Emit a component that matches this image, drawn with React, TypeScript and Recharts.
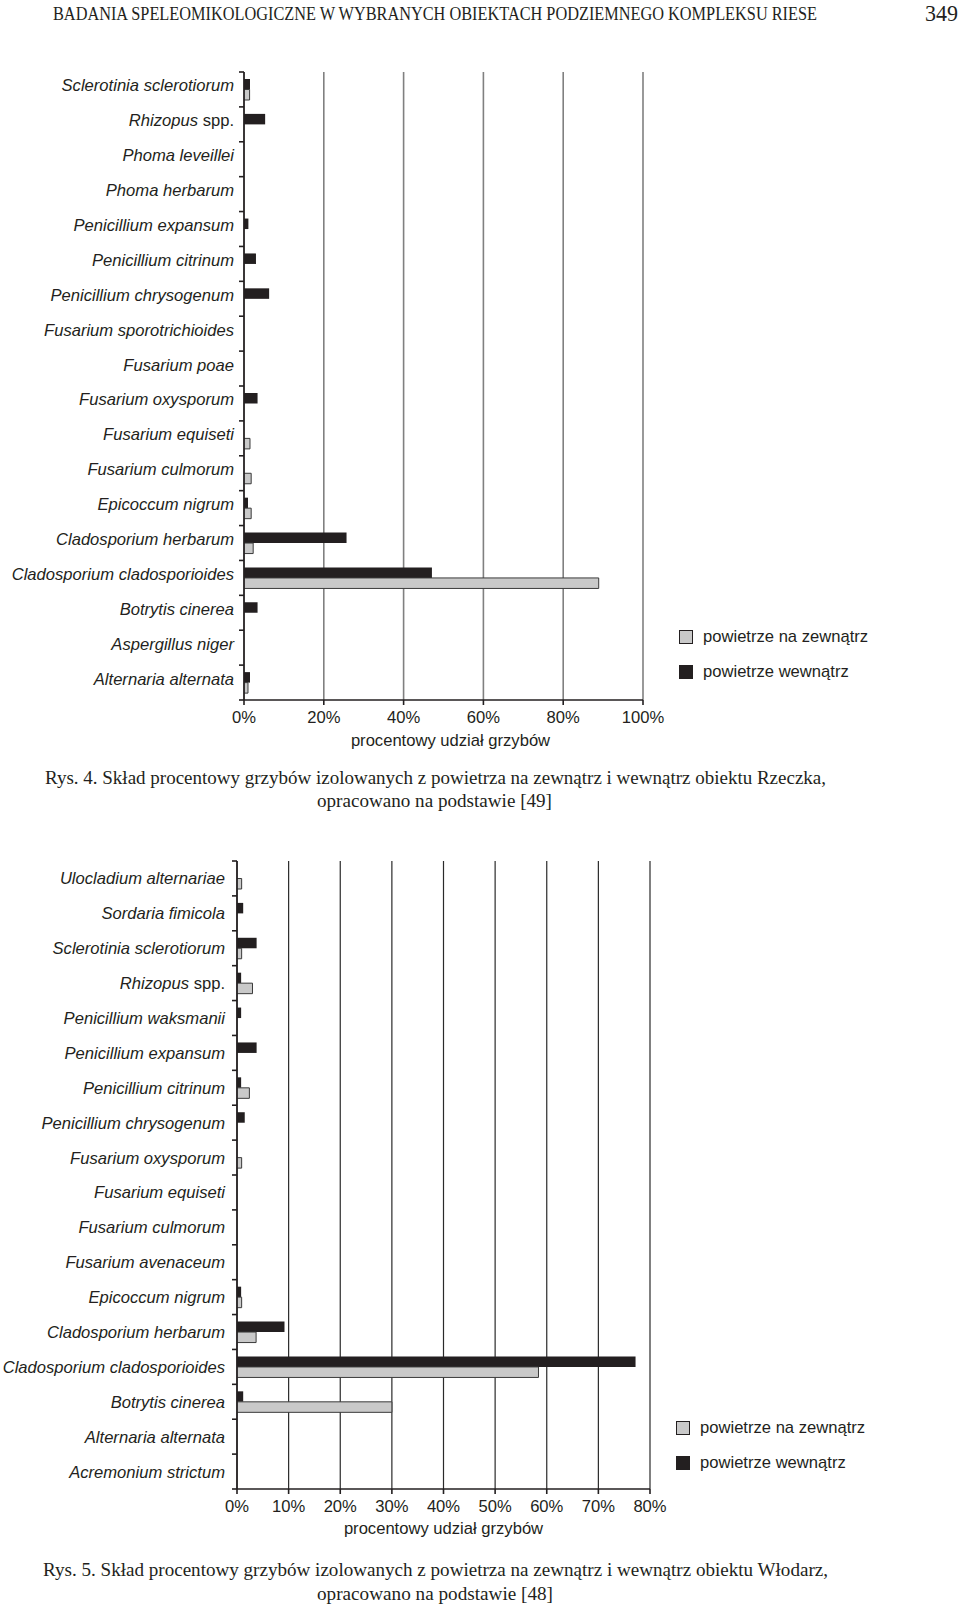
import React from "react";
import { BarChart, Bar, XAxis, YAxis, CartesianGrid, Legend } from "recharts";

// Rys. 4 - obiekt Rzeczka
const rzeczkaSpecies = [
  "Sclerotinia sclerotiorum",
  "Rhizopus spp.",
  "Phoma leveillei",
  "Phoma herbarum",
  "Penicillium expansum",
  "Penicillium citrinum",
  "Penicillium chrysogenum",
  "Fusarium sporotrichioides",
  "Fusarium poae",
  "Fusarium oxysporum",
  "Fusarium equiseti",
  "Fusarium culmorum",
  "Epicoccum nigrum",
  "Cladosporium herbarum",
  "Cladosporium cladosporioides",
  "Botrytis cinerea",
  "Aspergillus niger",
  "Alternaria alternata",
];
const rzeczkaInside = [1.5, 5.3, 0, 0, 1.1, 3.0, 6.3, 0, 0, 3.4, 0, 0, 1.0, 25.7, 47.1, 3.4, 0, 1.5];
const rzeczkaOutside = [1.4, 0, 0, 0, 0, 0, 0, 0, 0, 0, 1.5, 1.8, 1.8, 2.3, 88.9, 0, 0, 1.0];
const rzeczkaTicks = [0, 20, 40, 60, 80, 100];

// Rys. 5 - obiekt Włodarz
const wlodarzSpecies = [
  "Ulocladium alternariae",
  "Sordaria fimicola",
  "Sclerotinia sclerotiorum",
  "Rhizopus spp.",
  "Penicillium waksmanii",
  "Penicillium expansum",
  "Penicillium citrinum",
  "Penicillium chrysogenum",
  "Fusarium oxysporum",
  "Fusarium equiseti",
  "Fusarium culmorum",
  "Fusarium avenaceum",
  "Epicoccum nigrum",
  "Cladosporium herbarum",
  "Cladosporium cladosporioides",
  "Botrytis cinerea",
  "Alternaria alternata",
  "Acremonium strictum",
];
const wlodarzInside = [0, 1.2, 3.8, 0.8, 0.8, 3.8, 0.8, 1.5, 0, 0, 0, 0, 0.8, 9.2, 77.2, 1.2, 0, 0];
const wlodarzOutside = [0.9, 0, 0.9, 3.0, 0, 0, 2.4, 0, 0.9, 0, 0, 0, 0.9, 3.7, 58.4, 30, 0, 0];
const wlodarzTicks = [0, 10, 20, 30, 40, 50, 60, 70, 80];

const INSIDE = "powietrze wewnątrz";
const OUTSIDE = "powietrze na zewnątrz";
const SANS = "'Liberation Sans', Arial, sans-serif";
const SERIF = "'Liberation Serif', 'Times New Roman', serif";
const INK = "#231f20";
const GREY = "#c9c9c9";
const FS = 16.6;

const toRows = (species: string[], inside: number[], outside: number[]) =>
  species.map((name, i) => ({ name, inside: inside[i], outside: outside[i] }));

const SpeciesTick = (props: any) => {
  const { x, y, payload, index, count, gap, half, dy } = props;
  const axisX = x + gap;
  const h = payload.offset || half;
  const name: string = payload.value;
  const spp = name.endsWith(" spp.");
  return (
    <g>
      <line x1={axisX - 5} x2={axisX} y1={y - h} y2={y - h} stroke={INK} strokeWidth={1.6} />
      {index === count - 1 && (
        <line x1={axisX - 5} x2={axisX} y1={y + h} y2={y + h} stroke={INK} strokeWidth={1.6} />
      )}
      <text x={x} y={y} dy={dy} textAnchor="end" fontSize={FS} fill={INK} fontFamily={SANS}>
        <tspan fontStyle="italic">{spp ? name.slice(0, -5) : name}</tspan>
        {spp && <tspan> spp.</tspan>}
      </text>
    </g>
  );
};

const legendContent = ({ payload }: any) => {
  const items = [...(payload || [])].sort(
    (a: any, b: any) => (a.value === OUTSIDE ? 0 : 1) - (b.value === OUTSIDE ? 0 : 1)
  );
  return (
    <div style={{ fontFamily: SANS, fontSize: FS, color: INK }}>
      {items.map((entry: any) => (
        <div key={entry.value} style={{ display: "flex", alignItems: "center", height: 35 }}>
          <span
            style={{
              display: "inline-block",
              width: 12,
              height: 12,
              background: entry.color,
              border: `1px solid ${INK}`,
              marginRight: 10,
            }}
          />
          {entry.value}
        </div>
      ))}
    </div>
  );
};

interface FungiChartProps {
  rows: { name: string; inside: number; outside: number }[];
  ticks: number[];
  top: number;
  right: number;
  yWidth: number;
  gap: number;
  labelDy: number;
  gridColor: string;
  gridWidth: number;
  titleOffset: number;
  titleDx: number;
  legendLeft: number;
  legendTop: number;
}

const PLOT_H = 628;

const FungiChart = (p: FungiChartProps) => (
  <div style={{ position: "absolute", left: 0, top: p.top }}>
    <BarChart
      width={700}
      height={700}
      data={p.rows}
      layout="vertical"
      margin={{ top: 12, right: p.right, bottom: 0, left: 0 }}
      barSize={10.5}
      barGap={0}
    >
      <CartesianGrid horizontal={false} stroke={p.gridColor} strokeWidth={p.gridWidth} />
      <XAxis
        type="number"
        domain={[0, p.ticks[p.ticks.length - 1]]}
        ticks={p.ticks}
        interval={0}
        allowDataOverflow
        tickFormatter={(v) => `${v}%`}
        height={60}
        tickSize={5}
        tickMargin={6}
        axisLine={{ stroke: INK, strokeWidth: 1.6 }}
        tickLine={{ stroke: INK, strokeWidth: 1.6 }}
        tick={{ fill: INK, fontSize: FS, fontFamily: SANS }}
        label={{
          value: "procentowy udział grzybów",
          position: "insideBottom",
          offset: p.titleOffset,
          dx: p.titleDx,
          fill: INK,
          fontSize: FS,
          fontFamily: SANS,
        }}
      />
      <YAxis
        type="category"
        dataKey="name"
        width={p.yWidth}
        interval={0}
        tickLine={false}
        tickSize={0}
        tickMargin={p.gap}
        axisLine={{ stroke: INK, strokeWidth: 1.6 }}
        tick={
          <SpeciesTick
            count={p.rows.length}
            gap={p.gap}
            half={PLOT_H / p.rows.length / 2}
            dy={p.labelDy}
          />
        }
      />
      <Bar dataKey="inside" name={INSIDE} fill={INK} isAnimationActive={false} />
      <Bar
        dataKey="outside"
        name={OUTSIDE}
        fill={GREY}
        stroke="#3a3a3a"
        strokeWidth={1}
        isAnimationActive={false}
      />
      <Legend
        layout="vertical"
        verticalAlign="middle"
        align="center"
        content={legendContent}
        wrapperStyle={{ left: p.legendLeft, top: p.legendTop, width: 230 }}
      />
    </BarChart>
  </div>
);

const App = () => (
  <div
    style={{
      position: "absolute",
      left: 0,
      top: 0,
      width: 960,
      height: 1608,
      background: "#fff",
      overflow: "hidden",
    }}
  >
    <svg
      width={960}
      height={1608}
      style={{ position: "absolute", left: 0, top: 0, pointerEvents: "none" }}
    >
      <g fontFamily={SERIF} fill={INK} style={{ whiteSpace: "pre" }}>
        <text x={53} y={20} fontSize={18} textLength={764} lengthAdjust="spacingAndGlyphs">
          BADANIA SPELEOMIKOLOGICZNE W WYBRANYCH OBIEKTACH PODZIEMNEGO KOMPLEKSU RIESE
        </text>
        <text x={925} y={21} fontSize={23} textLength={33} lengthAdjust="spacingAndGlyphs">
          349
        </text>
        <text x={45} y={784} fontSize={18} textLength={781} lengthAdjust="spacingAndGlyphs">
          Rys. 4.  Skład procentowy grzybów izolowanych z powietrza na zewnątrz i wewnątrz obiektu Rzeczka,
        </text>
        <text x={317} y={807} fontSize={18} textLength={235} lengthAdjust="spacingAndGlyphs">
          opracowano na podstawie [49]
        </text>
        <text x={43} y={1576} fontSize={18} textLength={785} lengthAdjust="spacingAndGlyphs">
          Rys. 5.  Skład procentowy grzybów izolowanych z powietrza na zewnątrz i wewnątrz obiektu Włodarz,
        </text>
        <text x={317} y={1600} fontSize={18} textLength={236} lengthAdjust="spacingAndGlyphs">
          opracowano na podstawie [48]
        </text>
      </g>
    </svg>
    <FungiChart
      rows={toRows(rzeczkaSpecies, rzeczkaInside, rzeczkaOutside)}
      ticks={rzeczkaTicks}
      top={60}
      right={57}
      yWidth={244}
      gap={10}
      labelDy={2}
      gridColor="#808080"
      gridWidth={1.6}
      titleOffset={14}
      titleDx={7}
      legendLeft={679}
      legendTop={559}
    />
    <FungiChart
      rows={toRows(wlodarzSpecies, wlodarzInside, wlodarzOutside)}
      ticks={wlodarzTicks}
      top={849}
      right={50}
      yWidth={237}
      gap={12}
      labelDy={6}
      gridColor="#2a2a2a"
      gridWidth={1.2}
      titleOffset={15}
      titleDx={0}
      legendLeft={676}
      legendTop={561}
    />
  </div>
);

export default App;
